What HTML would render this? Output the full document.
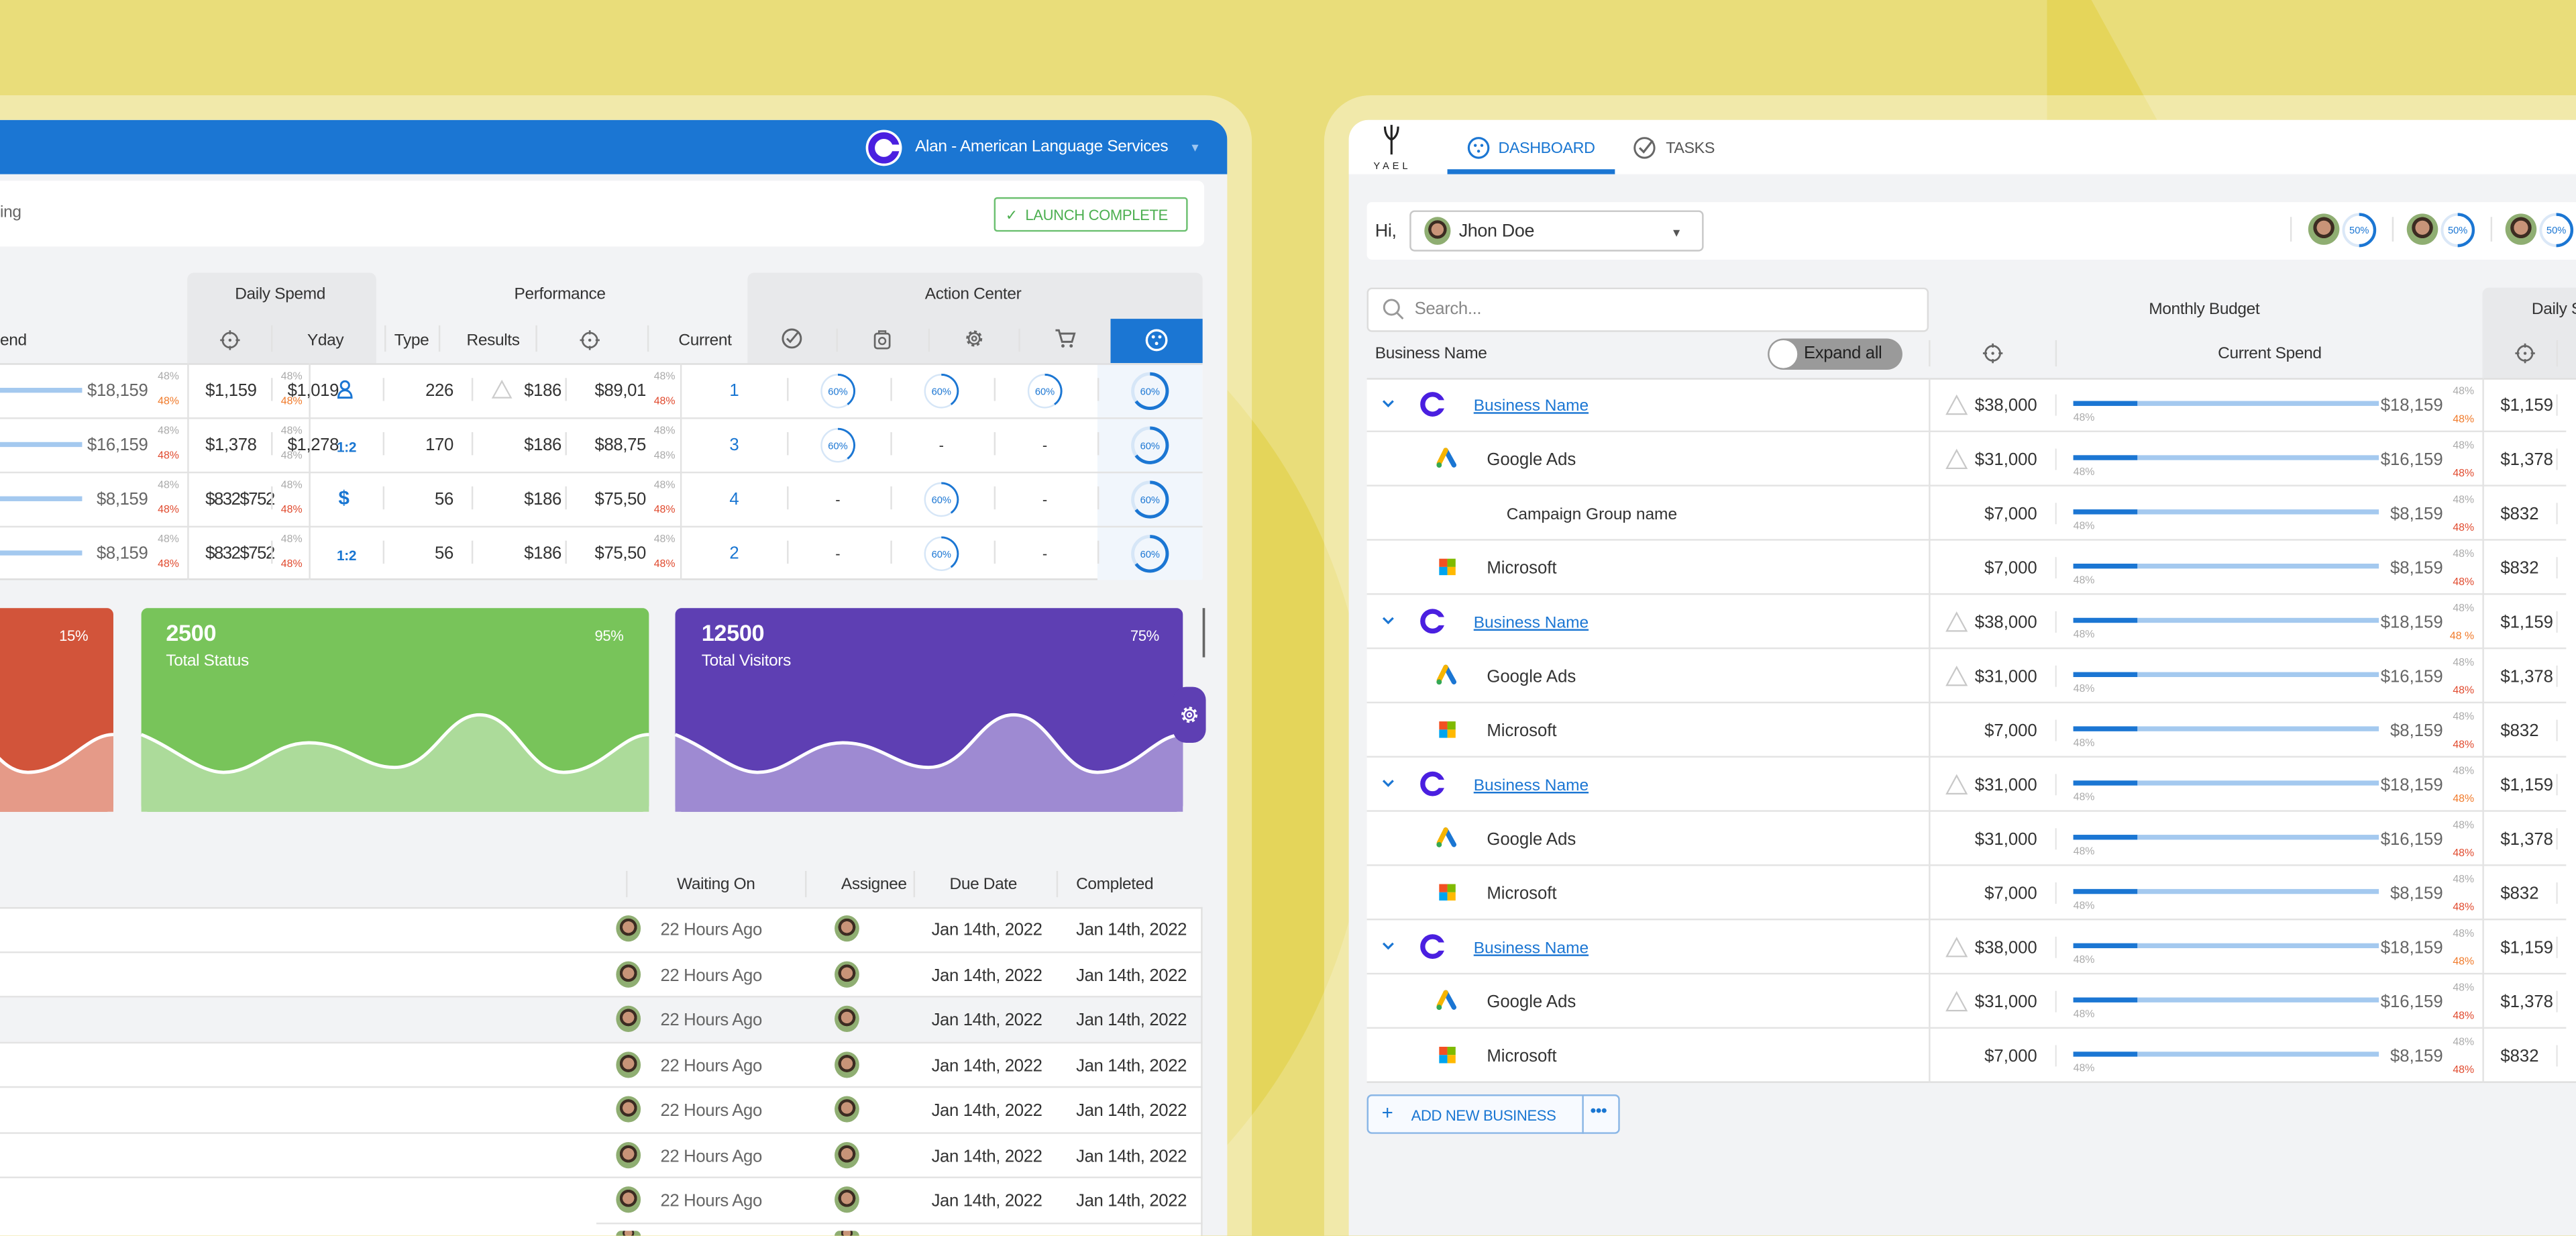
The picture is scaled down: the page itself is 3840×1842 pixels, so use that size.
<!DOCTYPE html>
<html><head><meta charset="utf-8">
<style>
*{margin:0;padding:0;box-sizing:border-box}
html,body{width:3840px;height:1842px;overflow:hidden;background:#e9dd7a}
#s{position:absolute;left:0;top:0;width:1568px;height:752px;transform:scale(2.44898);transform-origin:0 0;font-family:"Liberation Sans",sans-serif;color:#333;overflow:hidden}
.a{position:absolute}
.t{position:absolute;white-space:nowrap;font-size:10.5px;line-height:12px;letter-spacing:-0.15px}
.r{text-align:right}
.g{color:#666}
.sm{position:absolute;font-size:6.5px;line-height:7px;color:#aaa;white-space:nowrap}
.or{color:#f07a2a}.rd{color:#e04a2e}
.bl{color:#1976d2}
.vl{position:absolute;width:1px;background:#e2e2e2}
.hl{position:absolute;height:1px;background:#e3e3e3}
.av{position:absolute;border-radius:50%;background:radial-gradient(circle at 50% 45%,#c89478 0 30%,#3c2c22 31% 45%,#8fae72 46%)}
.xh{position:absolute}
</style></head><body>
<div id="s">
<svg width="0" height="0" style="position:absolute"><defs>
<g id="xhair"><circle cx="7" cy="7" r="4.5" fill="none" stroke="#666" stroke-width="1.1"/><circle cx="7" cy="7" r="0.9" fill="#666"/><path d="M7 1v2.5M7 10.5V13M1 7h2.5M10.5 7H13" stroke="#666" stroke-width="1.1"/></g>
</defs></svg>
<svg class="a" style="left:0;top:0" width="1568" height="752"><polygon points="1246,0 1273,0 1313,73 1246,73" fill="#e5d55a"/><circle cx="487" cy="467" r="347" fill="#e4d55a"/></svg>
<div class="a" style="left:-40px;top:58px;width:802px;height:694px;border-radius:0 28px 0 0;background:rgba(255,255,255,.36)"></div>
<div class="a" style="left:806px;top:58px;width:762px;height:694px;border-radius:28px 0 0 0;background:rgba(255,255,255,.36)"></div>

<!-- LEFT PANEL -->
<div class="a" style="left:-20px;top:73px;width:767px;height:679px;background:#f2f3f5;border-radius:0 12px 0 0;overflow:hidden">
 <div class="a" style="left:0;top:0;width:767px;height:33px;background:#1b76d3"></div>
</div>
<svg class="a" style="left:526px;top:78px" width="24" height="24" viewBox="0 0 24 24"><circle cx="12" cy="12" r="11" fill="#fff"/><circle cx="12" cy="12" r="7.5" fill="none" stroke="#4a1fe0" stroke-width="4"/><rect x="14" y="10" width="8" height="4" fill="#fff"/></svg>
<div class="t" style="left:557px;top:84px;color:#fff;font-size:10px">Alan - American Language Services</div>
<div class="t" style="left:724px;top:85px;color:#9ec6f0;font-size:7px">▼</div>
<div class="a" style="left:0;top:110px;width:733px;height:40px;background:#fff;border-radius:0 4px 4px 0"></div>
<div class="t g" style="left:0;top:124px;font-size:10px">ing</div>
<div class="a" style="left:605px;top:120px;width:118px;height:21px;border:1px solid #6cc070;border-radius:2px;background:#fff"></div>
<div class="t" style="left:612px;top:125px;color:#4caf50;font-size:9px">✓&nbsp; LAUNCH COMPLETE</div>
<div class="a" style="left:114px;top:166px;width:115px;height:55px;background:#e8e9eb;border-radius:4px 4px 0 0"></div>
<div class="a" style="left:455px;top:166px;width:277px;height:55px;background:#e8e9eb;border-radius:4px 4px 0 0"></div>
<div class="a" style="left:676px;top:194px;width:56px;height:27px;background:#1b76d3"></div>
<div class="t" style="left:143px;top:174px;font-size:10px">Daily Spemd</div>
<div class="t" style="left:313px;top:174px;font-size:10px">Performance</div>
<div class="t" style="left:563px;top:174px;font-size:10px">Action Center</div>
<div class="t" style="left:0;top:202px;font-size:10px">end</div>
<svg class="xh" style="left:133px;top:200px" width="14" height="14"><use href="#xhair"/></svg>
<div class="t" style="left:187px;top:202px;font-size:10px">Yday</div>
<div class="t" style="left:240px;top:202px;font-size:10px">Type</div>
<div class="t" style="left:284px;top:202px;font-size:10px">Results</div>
<svg class="xh" style="left:352px;top:200px" width="14" height="14"><use href="#xhair"/></svg>
<div class="t" style="left:413px;top:202px;font-size:10px">Current</div>
<div class="vl" style="left:165px;top:198px;height:16px"></div>
<div class="vl" style="left:234px;top:198px;height:16px"></div>
<div class="vl" style="left:267px;top:198px;height:16px"></div>
<div class="vl" style="left:326px;top:198px;height:16px"></div>
<div class="vl" style="left:394px;top:198px;height:16px"></div>
<svg class="a" style="left:475px;top:199px" width="14" height="14"><circle cx="7" cy="7" r="5.5" fill="none" stroke="#666" stroke-width="1.2"/><path d="M4 7l2 2 5-6" fill="none" stroke="#666" stroke-width="1.2"/></svg>
<svg class="a" style="left:530px;top:199px" width="14" height="14"><rect x="2.5" y="4" width="9" height="9" rx="1.5" fill="none" stroke="#666" stroke-width="1.1"/><path d="M5 4V2.5h4V4" fill="none" stroke="#666"/><circle cx="7" cy="8.5" r="2" fill="none" stroke="#666"/></svg>
<svg class="a" style="left:586px;top:199px" width="14" height="14"><circle cx="7" cy="7" r="4" fill="none" stroke="#666" stroke-width="1.8" stroke-dasharray="1.6 1.5"/><circle cx="7" cy="7" r="3.3" fill="none" stroke="#666" stroke-width="1"/><circle cx="7" cy="7" r="1.3" fill="none" stroke="#666" stroke-width="1"/></svg>
<svg class="a" style="left:641px;top:199px" width="14" height="14"><path d="M1.5 2h2l2 7h6l1.5-5H4.5" fill="none" stroke="#666" stroke-width="1.2"/><circle cx="6" cy="11.5" r="1" fill="#666"/><circle cx="11" cy="11.5" r="1" fill="#666"/></svg>
<svg class="a" style="left:697px;top:200px" width="14" height="14"><circle cx="7" cy="7" r="6" fill="none" stroke="#fff" stroke-width="1.4"/><circle cx="5" cy="5" r="1" fill="#fff"/><circle cx="9" cy="5" r="1" fill="#fff"/><circle cx="7" cy="9" r="1" fill="#fff"/></svg>
<div class="vl" style="left:509px;top:200px;height:14px"></div>
<div class="vl" style="left:565px;top:200px;height:14px"></div>
<div class="vl" style="left:620px;top:200px;height:14px"></div>
<div class="a" style="left:0;top:221px;width:732px;height:132px;background:#fff;border-bottom:1px solid #ddd"></div>
<div class="a" style="left:668px;top:221px;width:64px;height:132px;background:#f1f6fc"></div>
<div class="hl" style="left:0;top:221px;width:732px;background:#ddd"></div>
<div class="hl" style="left:0;top:254px;width:732px"></div>
<div class="hl" style="left:0;top:287px;width:732px"></div>
<div class="hl" style="left:0;top:320px;width:732px"></div>
<div class="vl" style="left:114px;top:221px;height:132px"></div>
<div class="vl" style="left:188px;top:221px;height:132px"></div>
<div class="vl" style="left:414px;top:221px;height:132px"></div>

<div class="a" style="left:0;top:236px;width:50px;height:3px;background:#a4c9ef"></div>
<div class="a" style="left:0;top:269px;width:50px;height:3px;background:#a4c9ef"></div>
<div class="a" style="left:0;top:302px;width:50px;height:3px;background:#a4c9ef"></div>
<div class="a" style="left:0;top:335px;width:50px;height:3px;background:#a4c9ef"></div>
<div class="t g r" style="left:40px;top:232px;width:50px">$18,159</div>
<div class="t g r" style="left:40px;top:265px;width:50px">$16,159</div>
<div class="t g r" style="left:40px;top:298px;width:50px">$8,159</div>
<div class="t g r" style="left:40px;top:331px;width:50px">$8,159</div>
<div class="sm" style="left:96px;top:226px">48%</div><div class="sm or" style="left:96px;top:241px">48%</div>
<div class="sm" style="left:96px;top:259px">48%</div><div class="sm rd" style="left:96px;top:274px">48%</div>
<div class="sm" style="left:96px;top:292px">48%</div><div class="sm rd" style="left:96px;top:307px">48%</div>
<div class="sm" style="left:96px;top:325px">48%</div><div class="sm rd" style="left:96px;top:340px">48%</div>

<div class="t" style="left:125px;top:232px">$1,159</div>
<div class="t" style="left:125px;top:265px">$1,378</div>
<div class="t" style="left:125px;top:298px;letter-spacing:-0.6px">$832$752</div>
<div class="t" style="left:125px;top:331px;letter-spacing:-0.6px">$832$752</div>
<div class="vl" style="left:165px;top:230px;height:14px"></div><div class="vl" style="left:165px;top:263px;height:14px"></div><div class="vl" style="left:165px;top:296px;height:14px"></div><div class="vl" style="left:165px;top:329px;height:14px"></div>
<div class="t" style="left:175px;top:232px">$1,019</div>
<div class="t" style="left:175px;top:265px">$1,278</div>
<div class="sm" style="left:171px;top:226px">48%</div><div class="sm or" style="left:171px;top:241px">48%</div>
<div class="sm" style="left:171px;top:259px">48%</div><div class="sm" style="left:171px;top:274px">48%</div>
<div class="sm" style="left:171px;top:292px">48%</div><div class="sm rd" style="left:171px;top:307px">48%</div>
<div class="sm" style="left:171px;top:325px">48%</div><div class="sm rd" style="left:171px;top:340px">48%</div>
<svg class="a" style="left:205px;top:231px" width="10" height="12"><circle cx="5" cy="3.5" r="2.5" fill="none" stroke="#1b76d3" stroke-width="1.2"/><path d="M1 11c0-3 2-4.5 4-4.5s4 1.5 4 4.5z" fill="none" stroke="#1b76d3" stroke-width="1.2"/></svg>
<div class="t bl" style="left:205px;top:266px;font-size:8.5px;font-weight:bold">1:2</div>
<div class="t bl" style="left:206px;top:297px;font-size:12px;font-weight:bold">$</div>
<div class="t bl" style="left:205px;top:332px;font-size:8.5px;font-weight:bold">1:2</div>
<div class="vl" style="left:233px;top:230px;height:14px"></div><div class="vl" style="left:233px;top:263px;height:14px"></div><div class="vl" style="left:233px;top:296px;height:14px"></div><div class="vl" style="left:233px;top:329px;height:14px"></div>
<div class="t r" style="left:246px;top:232px;width:30px">226</div>
<div class="t r" style="left:246px;top:265px;width:30px">170</div>
<div class="t r" style="left:246px;top:298px;width:30px">56</div>
<div class="t r" style="left:246px;top:331px;width:30px">56</div>
<div class="vl" style="left:287px;top:230px;height:14px"></div><div class="vl" style="left:287px;top:263px;height:14px"></div><div class="vl" style="left:287px;top:296px;height:14px"></div><div class="vl" style="left:287px;top:329px;height:14px"></div>
<svg class="a" style="left:299px;top:231px" width="13" height="12"><path d="M6.5 1L12 11H1Z" fill="none" stroke="#ccc" stroke-width="0.9"/></svg>
<div class="t" style="left:319px;top:232px">$186</div>
<div class="t" style="left:319px;top:265px">$186</div>
<div class="t" style="left:319px;top:298px">$186</div>
<div class="t" style="left:319px;top:331px">$186</div>
<div class="vl" style="left:344px;top:230px;height:14px"></div><div class="vl" style="left:344px;top:263px;height:14px"></div><div class="vl" style="left:344px;top:296px;height:14px"></div><div class="vl" style="left:344px;top:329px;height:14px"></div>
<div class="t" style="left:362px;top:232px">$89,01</div>
<div class="t" style="left:362px;top:265px">$88,75</div>
<div class="t" style="left:362px;top:298px">$75,50</div>
<div class="t" style="left:362px;top:331px">$75,50</div>
<div class="sm" style="left:398px;top:226px">48%</div><div class="sm rd" style="left:398px;top:241px">48%</div>
<div class="sm" style="left:398px;top:259px">48%</div><div class="sm" style="left:398px;top:274px">48%</div>
<div class="sm" style="left:398px;top:292px">48%</div><div class="sm rd" style="left:398px;top:307px">48%</div>
<div class="sm" style="left:398px;top:325px">48%</div><div class="sm rd" style="left:398px;top:340px">48%</div>
<div class="t bl" style="left:444px;top:232px">1</div>
<div class="t bl" style="left:444px;top:265px">3</div>
<div class="t bl" style="left:444px;top:298px">4</div>
<div class="t bl" style="left:444px;top:331px">2</div>
<div class="vl" style="left:479px;top:230px;height:14px"></div><div class="vl" style="left:479px;top:263px;height:14px"></div><div class="vl" style="left:479px;top:296px;height:14px"></div><div class="vl" style="left:479px;top:329px;height:14px"></div>
<div class="vl" style="left:542px;top:230px;height:14px"></div><div class="vl" style="left:542px;top:263px;height:14px"></div><div class="vl" style="left:542px;top:296px;height:14px"></div><div class="vl" style="left:542px;top:329px;height:14px"></div>
<div class="vl" style="left:605px;top:230px;height:14px"></div><div class="vl" style="left:605px;top:263px;height:14px"></div><div class="vl" style="left:605px;top:296px;height:14px"></div><div class="vl" style="left:605px;top:329px;height:14px"></div>
<div class="vl" style="left:668px;top:230px;height:14px"></div><div class="vl" style="left:668px;top:263px;height:14px"></div><div class="vl" style="left:668px;top:296px;height:14px"></div><div class="vl" style="left:668px;top:329px;height:14px"></div>
<svg class="a" style="left:0;top:0" width="740" height="360">
<defs><g id="sg"><circle r="10" fill="#fff" stroke="#d6e6f7" stroke-width="1"/><path d="M0 -10 A10 10 0 0 1 5.9 8.1" fill="none" stroke="#1b76d3" stroke-width="1.2"/><text y="2.3" text-anchor="middle" font-size="6" fill="#1b76d3" font-family="Liberation Sans">60%</text></g>
<g id="bg"><circle r="10.5" fill="none" stroke="#d6e6f7" stroke-width="2"/><path d="M0 -10.5 A10.5 10.5 0 1 1 -8.5 6.2" fill="none" stroke="#1b76d3" stroke-width="2"/><text y="2.3" text-anchor="middle" font-size="6" fill="#1b76d3" font-family="Liberation Sans">60%</text></g></defs>
<use href="#sg" x="510" y="238"/><use href="#sg" x="573" y="238"/><use href="#sg" x="636" y="238"/>
<use href="#sg" x="510" y="271"/><use href="#sg" x="573" y="304"/><use href="#sg" x="573" y="337"/>
<use href="#bg" x="700" y="238"/><use href="#bg" x="700" y="271"/><use href="#bg" x="700" y="304"/><use href="#bg" x="700" y="337"/>
<text x="573" y="274" text-anchor="middle" font-size="9" fill="#333">-</text><text x="636" y="274" text-anchor="middle" font-size="9" fill="#333">-</text>
<text x="510" y="307" text-anchor="middle" font-size="9" fill="#333">-</text><text x="636" y="307" text-anchor="middle" font-size="9" fill="#333">-</text>
<text x="510" y="340" text-anchor="middle" font-size="9" fill="#333">-</text><text x="636" y="340" text-anchor="middle" font-size="9" fill="#333">-</text>
</svg>

<svg class="a" style="left:0;top:370px" width="740" height="126">
<defs><path id="wv" d="M0 77 C20 85 35 100 50 100 C70 100 80 82 102 82 C125 82 135 97 154 97 C178 97 185 65 206 65 C228 65 235 100 257 100 C280 100 292 77 309 77"/></defs>
<g transform="translate(-240 0)"><rect width="309" height="124" rx="4" fill="#d2543a"/><path d="M0 77 C20 85 35 100 50 100 C70 100 80 82 102 82 C125 82 135 97 154 97 C178 97 185 65 206 65 C228 65 235 100 257 100 C280 100 292 77 309 77 L309 124 L0 124Z" fill="#e59a88"/><use href="#wv" fill="none" stroke="#fff" stroke-width="2"/></g>
<g transform="translate(86 0)"><rect width="309" height="124" rx="4" fill="#78c45a"/><path d="M0 77 C20 85 35 100 50 100 C70 100 80 82 102 82 C125 82 135 97 154 97 C178 97 185 65 206 65 C228 65 235 100 257 100 C280 100 292 77 309 77 L309 124 L0 124Z" fill="#acdb9a"/><use href="#wv" fill="none" stroke="#fff" stroke-width="2"/></g>
<g transform="translate(411 0)"><rect width="309" height="124" rx="4" fill="#5e3fb3"/><path d="M0 77 C20 85 35 100 50 100 C70 100 80 82 102 82 C125 82 135 97 154 97 C178 97 185 65 206 65 C228 65 235 100 257 100 C280 100 292 77 309 77 L309 124 L0 124Z" fill="#9e8ad2"/><use href="#wv" fill="none" stroke="#fff" stroke-width="2"/></g>
<rect x="714" y="48" width="20" height="34" rx="8" fill="#5e3fb3"/>
<rect x="732" y="0" width="1.5" height="30" fill="#666"/>
<g transform="translate(724 65)"><circle r="4" fill="none" stroke="#fff" stroke-width="1.8" stroke-dasharray="1.6 1.5"/><circle r="3.2" fill="none" stroke="#fff" stroke-width="1"/><circle r="1.2" fill="none" stroke="#fff" stroke-width="1"/></g>
</svg>
<div class="t" style="left:36px;top:381px;color:#fff;font-size:9px">15%</div>
<div class="t" style="left:101px;top:379px;color:#fff;font-size:14px;font-weight:bold">2500</div>
<div class="t" style="left:101px;top:397px;color:#fff;font-size:10px">Total Status</div>
<div class="t" style="left:362px;top:381px;color:#fff;font-size:9px">95%</div>
<div class="t" style="left:427px;top:379px;color:#fff;font-size:14px;font-weight:bold">12500</div>
<div class="t" style="left:427px;top:397px;color:#fff;font-size:10px">Total Visitors</div>
<div class="t" style="left:688px;top:381px;color:#fff;font-size:9px">75%</div>

<div class="t" style="left:412px;top:533px;font-size:10px">Waiting On</div>
<div class="t" style="left:512px;top:533px;font-size:10px">Assignee</div>
<div class="t" style="left:578px;top:533px;font-size:10px">Due Date</div>
<div class="t" style="left:655px;top:533px;font-size:10px">Completed</div>
<div class="vl" style="left:381px;top:530px;height:16px"></div><div class="vl" style="left:490px;top:530px;height:16px"></div><div class="vl" style="left:556px;top:530px;height:16px"></div><div class="vl" style="left:643px;top:530px;height:16px"></div>
<div class="a" style="left:0;top:552px;width:732px;height:200px;background:#fff;border-top:1px solid #e0e0e0"></div>
<div class="a" style="left:0;top:607px;width:732px;height:27px;background:#f2f3f5"></div>
<div class="hl" style="left:0;top:579px;width:732px"></div><div class="hl" style="left:0;top:606px;width:732px"></div><div class="hl" style="left:0;top:634px;width:732px"></div><div class="hl" style="left:0;top:661px;width:732px"></div><div class="hl" style="left:0;top:689px;width:732px"></div><div class="hl" style="left:0;top:716px;width:732px"></div><div class="hl" style="left:363px;top:744px;width:369px"></div>
<div class="a" style="left:731px;top:552px;width:1px;height:200px;background:#e0e0e0"></div>

<div class="av" style="left:375px;top:557px;width:15px;height:16px"></div><div class="t g" style="left:402px;top:560px">22 Hours Ago</div><div class="av" style="left:508px;top:557px;width:15px;height:16px"></div><div class="t" style="left:567px;top:560px">Jan 14th, 2022</div><div class="t" style="left:655px;top:560px">Jan 14th, 2022</div>
<div class="av" style="left:375px;top:585px;width:15px;height:16px"></div><div class="t g" style="left:402px;top:588px">22 Hours Ago</div><div class="av" style="left:508px;top:585px;width:15px;height:16px"></div><div class="t" style="left:567px;top:588px">Jan 14th, 2022</div><div class="t" style="left:655px;top:588px">Jan 14th, 2022</div>
<div class="av" style="left:375px;top:612px;width:15px;height:16px"></div><div class="t g" style="left:402px;top:615px">22 Hours Ago</div><div class="av" style="left:508px;top:612px;width:15px;height:16px"></div><div class="t" style="left:567px;top:615px">Jan 14th, 2022</div><div class="t" style="left:655px;top:615px">Jan 14th, 2022</div>
<div class="av" style="left:375px;top:640px;width:15px;height:16px"></div><div class="t g" style="left:402px;top:643px">22 Hours Ago</div><div class="av" style="left:508px;top:640px;width:15px;height:16px"></div><div class="t" style="left:567px;top:643px">Jan 14th, 2022</div><div class="t" style="left:655px;top:643px">Jan 14th, 2022</div>
<div class="av" style="left:375px;top:667px;width:15px;height:16px"></div><div class="t g" style="left:402px;top:670px">22 Hours Ago</div><div class="av" style="left:508px;top:667px;width:15px;height:16px"></div><div class="t" style="left:567px;top:670px">Jan 14th, 2022</div><div class="t" style="left:655px;top:670px">Jan 14th, 2022</div>
<div class="av" style="left:375px;top:695px;width:15px;height:16px"></div><div class="t g" style="left:402px;top:698px">22 Hours Ago</div><div class="av" style="left:508px;top:695px;width:15px;height:16px"></div><div class="t" style="left:567px;top:698px">Jan 14th, 2022</div><div class="t" style="left:655px;top:698px">Jan 14th, 2022</div>
<div class="av" style="left:375px;top:722px;width:15px;height:16px"></div><div class="t g" style="left:402px;top:725px">22 Hours Ago</div><div class="av" style="left:508px;top:722px;width:15px;height:16px"></div><div class="t" style="left:567px;top:725px">Jan 14th, 2022</div><div class="t" style="left:655px;top:725px">Jan 14th, 2022</div>
<div class="av" style="left:375px;top:749px;width:15px;height:3px;border-radius:8px 8px 0 0"></div><div class="av" style="left:508px;top:749px;width:15px;height:3px;border-radius:8px 8px 0 0"></div>

<!-- RIGHT PANEL -->
<div class="a" style="left:821px;top:73px;width:747px;height:679px;background:#f2f3f5;border-radius:12px 0 0 0;overflow:hidden">
 <div class="a" style="left:0;top:0;width:747px;height:33px;background:#fff"></div>
</div>
<svg class="a" style="left:838px;top:74px" width="20" height="22"><path d="M9 2v18M5 3c0 5 2 7 4 8M13 3c0 5-2 7-4 8M9 2v6" fill="none" stroke="#222" stroke-width="1.3"/></svg>
<div class="t" style="left:836px;top:96px;font-size:6px;letter-spacing:2px;color:#222">YAEL</div>
<svg class="a" style="left:893px;top:83px" width="14" height="14"><circle cx="7" cy="7" r="6" fill="none" stroke="#1b76d3" stroke-width="1.3"/><circle cx="5" cy="5.5" r=".9" fill="#1b76d3"/><circle cx="9" cy="5.5" r=".9" fill="#1b76d3"/><circle cx="7" cy="9" r=".9" fill="#1b76d3"/></svg>
<div class="t bl" style="left:912px;top:85px;font-size:9.5px">DASHBOARD</div>
<div class="a" style="left:881px;top:103px;width:102px;height:3px;background:#1b76d3"></div>
<svg class="a" style="left:994px;top:83px" width="14" height="14"><circle cx="7" cy="7" r="6" fill="none" stroke="#666" stroke-width="1.2"/><path d="M4 7l2.5 2.5 5.5-7" fill="none" stroke="#666" stroke-width="1.3"/></svg>
<div class="t" style="left:1014px;top:85px;font-size:9.5px;color:#555">TASKS</div>
<div class="a" style="left:832px;top:123px;width:736px;height:35px;background:#fff;border-radius:3px 0 0 3px"></div>
<div class="t" style="left:837px;top:135px;font-size:11px">Hi,</div>
<div class="a" style="left:858px;top:128px;width:179px;height:25px;border:1px solid #c8c8c8;border-radius:3px;background:#fff"></div>
<div class="av" style="left:867px;top:132px;width:16px;height:17px"></div>
<div class="t" style="left:888px;top:135px;font-size:11px">Jhon Doe</div>
<div class="t" style="left:1017px;top:137px;font-size:7px;color:#555">▼</div>
<div class="vl" style="left:1394px;top:132px;height:15px"></div><div class="vl" style="left:1456px;top:132px;height:15px"></div><div class="vl" style="left:1516px;top:132px;height:15px"></div>
<div class="av" style="left:1405px;top:130px;width:19px;height:19px"></div>
<div class="av" style="left:1465px;top:130px;width:19px;height:19px"></div>
<div class="av" style="left:1525px;top:130px;width:19px;height:19px"></div>
<svg class="a" style="left:1420px;top:125px" width="148" height="30">
<defs><g id="pg"><circle r="9.5" fill="#fff" stroke="#dbe8f7" stroke-width="1.6"/><path d="M0 -9.5 A9.5 9.5 0 0 1 0 9.5" fill="none" stroke="#1b76d3" stroke-width="1.8"/><text y="2.2" text-anchor="middle" font-size="6" fill="#1b76d3" font-family="Liberation Sans">50%</text></g></defs>
<use href="#pg" x="16" y="15"/><use href="#pg" x="76" y="15"/><use href="#pg" x="136" y="15"/>
</svg>
<div class="a" style="left:832px;top:175px;width:342px;height:27px;background:#fff;border:1px solid #dcdcdc;border-radius:3px"></div>
<svg class="a" style="left:841px;top:181px" width="14" height="14"><circle cx="6" cy="6" r="4.5" fill="none" stroke="#999" stroke-width="1.2"/><path d="M9.5 9.5l3.5 3.5" stroke="#999" stroke-width="1.2"/></svg>
<div class="t" style="left:861px;top:182px;color:#888">Search...</div>
<div class="a" style="left:1511px;top:175px;width:57px;height:55px;background:#e8e9eb;border-radius:4px 0 0 0"></div>
<div class="t" style="left:1308px;top:183px;font-size:10px">Monthly Budget</div>
<div class="t" style="left:1541px;top:183px;font-size:10px">Daily S</div>
<div class="t" style="left:837px;top:210px;font-size:10px">Business Name</div>
<div class="a" style="left:1076px;top:206px;width:82px;height:19px;border-radius:10px;background:#9a9a9a"></div>
<div class="a" style="left:1077px;top:207px;width:17px;height:17px;border-radius:50%;background:#fff"></div>
<div class="t" style="left:1098px;top:209px;font-size:10.5px;color:#222">Expand all</div>
<svg class="xh" style="left:1206px;top:208px" width="14" height="14"><use href="#xhair"/></svg>
<svg class="xh" style="left:1530px;top:208px" width="14" height="14"><use href="#xhair"/></svg>
<div class="t" style="left:1350px;top:210px;font-size:10px">Current Spend</div>
<div class="vl" style="left:1174px;top:207px;height:16px"></div><div class="vl" style="left:1251px;top:207px;height:16px"></div><div class="vl" style="left:1556px;top:207px;height:16px"></div>

<div class="a" style="left:832px;top:230px;width:736px;height:429px;background:#fff;border-top:1px solid #ddd;border-bottom:1px solid #ddd"></div>
<div class="vl" style="left:1174px;top:230px;height:429px"></div>
<div class="vl" style="left:1511px;top:230px;height:429px"></div>
<svg class="a" style="left:820px;top:230px" width="748" height="430" font-family="Liberation Sans">
<defs>
<g id="rowline"><rect x="12" y="32" width="730" height="1" fill="#e3e3e3"/></g>
<g id="bar"><rect x="442" y="14" width="186" height="3" fill="#a4c9ef"/><rect x="442" y="14" width="39" height="3" fill="#1b76d3"/><text x="442" y="26" font-size="6.5" fill="#aaa">48%</text><rect x="431" y="10" width="0.8" height="13" fill="#e2e2e2"/><text x="686" y="10" font-size="6.5" fill="#aaa" text-anchor="end">48%</text><rect x="736" y="10" width="0.8" height="13" fill="#e2e2e2"/></g>
<g id="warn"><path d="M371 11 L377 22 L365 22Z" fill="none" stroke="#c8c8c8" stroke-width="0.9"/></g>
<g id="cl"><circle cx="52" cy="16" r="6" fill="none" stroke="#4a1fe0" stroke-width="3"/><rect x="54" y="13.5" width="6" height="5" fill="#fff"/><path d="M22 14l3 3 3-3" fill="none" stroke="#1b76d3" stroke-width="1.3"/></g>
<g id="gads"><path d="M60 11 L65 20" stroke="#1b76d3" stroke-width="3" stroke-linecap="round"/><path d="M60 11 L56 19" stroke="#f6b400" stroke-width="3" stroke-linecap="round"/><circle cx="56" cy="20" r="1.6" fill="#34a853"/></g>
<g id="ms"><rect x="56" y="11" width="5" height="5" fill="#f25022"/><rect x="61" y="11" width="5" height="5" fill="#7fba00"/><rect x="56" y="16" width="5" height="5" fill="#00a4ef"/><rect x="61" y="16" width="5" height="5" fill="#ffb900"/></g>
</defs>
<g font-size="10.5" fill="#333">
<g transform="translate(0 0)"><use href="#rowline"/><use href="#cl"/><text x="77" y="20" fill="#1b76d3" font-size="10" text-decoration="underline">Business Name</text><use href="#warn"/><text x="420" y="20" text-anchor="end">$38,000</text><use href="#bar"/><text x="667" y="20" text-anchor="end" fill="#666">$18,159</text><text x="686" y="27" font-size="6.5" fill="#f07a2a" text-anchor="end">48%</text><text x="702" y="20">$1,159</text></g>
<g transform="translate(0 33)"><use href="#rowline"/><use href="#gads"/><text x="85" y="20">Google Ads</text><use href="#warn"/><text x="420" y="20" text-anchor="end">$31,000</text><use href="#bar"/><text x="667" y="20" text-anchor="end" fill="#666">$16,159</text><text x="686" y="27" font-size="6.5" fill="#e04a2e" text-anchor="end">48%</text><text x="702" y="20">$1,378</text></g>
<g transform="translate(0 66)"><use href="#rowline"/><text x="97" y="20" font-size="10">Campaign Group name</text><text x="420" y="20" text-anchor="end">$7,000</text><use href="#bar"/><text x="667" y="20" text-anchor="end" fill="#666">$8,159</text><text x="686" y="27" font-size="6.5" fill="#e04a2e" text-anchor="end">48%</text><text x="702" y="20">$832</text></g>
<g transform="translate(0 99)"><use href="#rowline"/><use href="#ms"/><text x="85" y="20">Microsoft</text><text x="420" y="20" text-anchor="end">$7,000</text><use href="#bar"/><text x="667" y="20" text-anchor="end" fill="#666">$8,159</text><text x="686" y="27" font-size="6.5" fill="#e04a2e" text-anchor="end">48%</text><text x="702" y="20">$832</text></g>
<g transform="translate(0 132)"><use href="#rowline"/><use href="#cl"/><text x="77" y="20" fill="#1b76d3" font-size="10" text-decoration="underline">Business Name</text><use href="#warn"/><text x="420" y="20" text-anchor="end">$38,000</text><use href="#bar"/><text x="667" y="20" text-anchor="end" fill="#666">$18,159</text><text x="686" y="27" font-size="6.5" fill="#f07a2a" text-anchor="end">48 %</text><text x="702" y="20">$1,159</text></g>
<g transform="translate(0 165)"><use href="#rowline"/><use href="#gads"/><text x="85" y="20">Google Ads</text><use href="#warn"/><text x="420" y="20" text-anchor="end">$31,000</text><use href="#bar"/><text x="667" y="20" text-anchor="end" fill="#666">$16,159</text><text x="686" y="27" font-size="6.5" fill="#e04a2e" text-anchor="end">48%</text><text x="702" y="20">$1,378</text></g>
<g transform="translate(0 198)"><use href="#rowline"/><use href="#ms"/><text x="85" y="20">Microsoft</text><text x="420" y="20" text-anchor="end">$7,000</text><use href="#bar"/><text x="667" y="20" text-anchor="end" fill="#666">$8,159</text><text x="686" y="27" font-size="6.5" fill="#e04a2e" text-anchor="end">48%</text><text x="702" y="20">$832</text></g>
<g transform="translate(0 231)"><use href="#rowline"/><use href="#cl"/><text x="77" y="20" fill="#1b76d3" font-size="10" text-decoration="underline">Business Name</text><use href="#warn"/><text x="420" y="20" text-anchor="end">$31,000</text><use href="#bar"/><text x="667" y="20" text-anchor="end" fill="#666">$18,159</text><text x="686" y="27" font-size="6.5" fill="#f07a2a" text-anchor="end">48%</text><text x="702" y="20">$1,159</text></g>
<g transform="translate(0 264)"><use href="#rowline"/><use href="#gads"/><text x="85" y="20">Google Ads</text><text x="420" y="20" text-anchor="end">$31,000</text><use href="#bar"/><text x="667" y="20" text-anchor="end" fill="#666">$16,159</text><text x="686" y="27" font-size="6.5" fill="#e04a2e" text-anchor="end">48%</text><text x="702" y="20">$1,378</text></g>
<g transform="translate(0 297)"><use href="#rowline"/><use href="#ms"/><text x="85" y="20">Microsoft</text><text x="420" y="20" text-anchor="end">$7,000</text><use href="#bar"/><text x="667" y="20" text-anchor="end" fill="#666">$8,159</text><text x="686" y="27" font-size="6.5" fill="#e04a2e" text-anchor="end">48%</text><text x="702" y="20">$832</text></g>
<g transform="translate(0 330)"><use href="#rowline"/><use href="#cl"/><text x="77" y="20" fill="#1b76d3" font-size="10" text-decoration="underline">Business Name</text><use href="#warn"/><text x="420" y="20" text-anchor="end">$38,000</text><use href="#bar"/><text x="667" y="20" text-anchor="end" fill="#666">$18,159</text><text x="686" y="27" font-size="6.5" fill="#f07a2a" text-anchor="end">48%</text><text x="702" y="20">$1,159</text></g>
<g transform="translate(0 363)"><use href="#rowline"/><use href="#gads"/><text x="85" y="20">Google Ads</text><use href="#warn"/><text x="420" y="20" text-anchor="end">$31,000</text><use href="#bar"/><text x="667" y="20" text-anchor="end" fill="#666">$16,159</text><text x="686" y="27" font-size="6.5" fill="#e04a2e" text-anchor="end">48%</text><text x="702" y="20">$1,378</text></g>
<g transform="translate(0 396)"><use href="#ms"/><text x="85" y="20">Microsoft</text><text x="420" y="20" text-anchor="end">$7,000</text><use href="#bar"/><text x="667" y="20" text-anchor="end" fill="#666">$8,159</text><text x="686" y="27" font-size="6.5" fill="#e04a2e" text-anchor="end">48%</text><text x="702" y="20">$832</text></g>
</g>
</svg>
<div class="a" style="left:832px;top:666px;width:154px;height:24px;border:1px solid #8ab6e6;border-radius:3px;background:#f7faff"></div>
<div class="a" style="left:963px;top:666px;width:1px;height:24px;background:#8ab6e6"></div>
<div class="t bl" style="left:841px;top:671px;font-size:12px">+</div>
<div class="t bl" style="left:859px;top:673px;font-size:9px">ADD NEW BUSINESS</div>
<div class="t bl" style="left:968px;top:671px;font-size:10px;font-weight:bold">•••</div>
</div>
</body></html>
